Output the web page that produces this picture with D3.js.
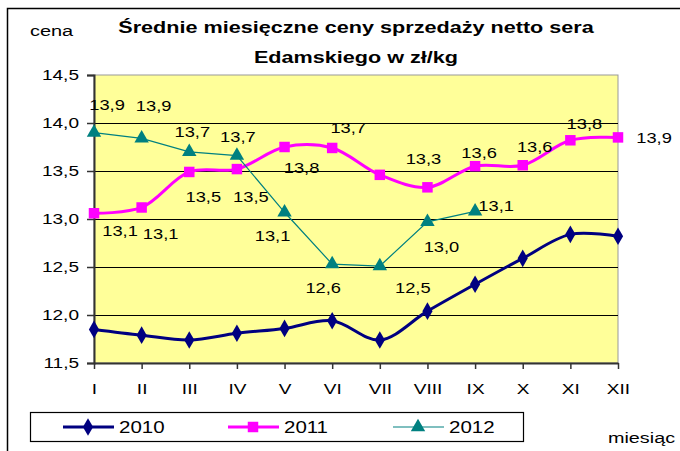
<!DOCTYPE html>
<html>
<head>
<meta charset="utf-8">
<script src="https://cdn.jsdelivr.net/npm/d3@7"></script>
<style>
    body { margin: 0; background: #fff; }
    svg text { font-family: "Liberation Sans", Arial, sans-serif; fill: #000; }
</style>
</head>
<body>
<svg id="chart" width="680" height="451"></svg>
<script>
// dane
const months = ['I', 'II', 'III', 'IV', 'V', 'VI', 'VII', 'VIII', 'IX', 'X', 'XI', 'XII'];
const yTicks = [11.5, 12.0, 12.5, 13.0, 13.5, 14.0, 14.5];
const values2010 = [11.85, 11.79, 11.74, 11.81, 11.86, 11.94, 11.74, 12.04, 12.32, 12.59, 12.84, 12.82];
const values2011 = [13.06, 13.12, 13.49, 13.52, 13.75, 13.74, 13.46, 13.33, 13.55, 13.56, 13.82, 13.85];
const values2012 = [13.90, 13.84, 13.70, 13.66, 13.07, 12.53, 12.51, 12.97, 13.08, null, null, null];
const labels2011 = ['13,1', '13,1', '13,5', '13,5', '13,8', '13,7', '', '13,3', '13,6', '13,6', '13,8', '13,9'];
const labels2012 = ['13,9', '13,9', '13,7', '13,7', '13,1', '12,6', '12,5', '13,0', '13,1', '', '', ''];

// przesunięcia etykiet (recznie, jak w excelu)
const off2011 = [[26, 18], [19, 26], [14, 25], [14, 28], [17, 21], [16, -20], [0, 0], [-4, -29], [4, -13], [12, -18], [14, -17], [36, 0]];
const off2012 = [[13, -28], [12, -33], [3, -20], [1, -19], [-12, 23], [-9, 24], [33, 22], [14, 25], [21, -6], [0, 0], [0, 0], [0, 0]];

// tekst w oryginale jest rozciągnięty w poziomie
const SX = 1.27;

const svg = d3.select('#chart');

// rozciąga tekst: x,y -> transform
function stretch(sel, sx) {
    sel.each(function () {
        let t = d3.select(this);
        let tx = parseFloat(t.attr('x')) || 0,
            ty = parseFloat(t.attr('y')) || 0;
        t.attr('x', 0)
            .attr('y', 0)
            .attr('transform', 'translate(' + tx + ',' + ty + ') scale(' + sx + ',1)');
    });
    return sel;
}

// ramka zewnętrzna (widoczna tylko góra i lewa)
svg.append('path')
    .attr('d', 'M7.5,451 L7.5,8.5 L680,8.5')
    .attr('fill', 'none')
    .attr('stroke', '#000')
    .attr('stroke-width', 1.5);

let plot = {left: 94, right: 618, top: 75, bottom: 363};

let x = d3.scalePoint()
    .domain(months)
    .range([plot.left, plot.right]);
let y = d3.scaleLinear()
    .domain([11.5, 14.5])
    .range([plot.bottom, plot.top]);

// tło wykresu
svg.append('rect')
    .attr('x', plot.left)
    .attr('y', plot.top)
    .attr('width', plot.right - plot.left)
    .attr('height', plot.bottom - plot.top)
    .attr('fill', '#FFFF99')
    .attr('stroke', '#999')
    .attr('stroke-width', 1);

// linie siatki
svg.append('g')
    .selectAll('line')
    .data(yTicks.filter(d => d > 11.5 && d < 14.5))
    .enter()
    .append('line')
    .attr('x1', plot.left)
    .attr('x2', plot.right)
    .attr('y1', d => Math.round(y(d)) + 0.5)
    .attr('y2', d => Math.round(y(d)) + 0.5)
    .attr('stroke', '#000')
    .attr('stroke-width', 1);

// oś Y
let yAxis = svg.append('g')
    .attr('transform', 'translate(' + plot.left + ',0)')
    .call(d3.axisLeft(y).tickValues(yTicks).tickSize(7).tickPadding(8)
        .tickFormat(d => d3.format('.1f')(d).replace('.', ',')));
yAxis.select('.domain').attr('stroke', '#333').attr('stroke-width', 2);
yAxis.selectAll('.tick line').attr('stroke', '#333').attr('stroke-width', 1.5);
stretch(yAxis.selectAll('text').style('font-size', '15px').attr('fill', '#000'), SX);

// oś X
let xAxis = svg.append('g')
    .attr('transform', 'translate(0,' + plot.bottom + ')')
    .call(d3.axisBottom(x).tickSize(6).tickPadding(14).tickSizeOuter(0));
xAxis.select('.domain').attr('stroke', '#333').attr('stroke-width', 2);
xAxis.selectAll('.tick line').attr('stroke', '#333').attr('stroke-width', 1.5);
stretch(xAxis.selectAll('text').style('font-size', '15px').attr('fill', '#000'), SX);

// serie
let series = [
    {name: '2010', values: values2010, color: '#000080', width: 3, curve: d3.curveCatmullRom.alpha(0.5), symbol: d3.symbolDiamond, size: 90, labels: null},
    {name: '2011', values: values2011, color: '#FF00FF', width: 3, curve: d3.curveCatmullRom.alpha(0.5), symbol: d3.symbolSquare, size: 110, labels: labels2011, off: off2011},
    {name: '2012', values: values2012, color: '#008080', width: 1.2, curve: d3.curveLinear, symbol: d3.symbolTriangle, size: 90, labels: labels2012, off: off2012}
];

series.forEach(function (s) {
    let pts = months.map((m, i) => ({m: m, v: s.values[i], i: i})).filter(d => d.v !== null);
    let line = d3.line()
        .x(d => x(d.m))
        .y(d => y(d.v))
        .curve(s.curve);
    svg.append('path')
        .datum(pts)
        .attr('d', line)
        .attr('fill', 'none')
        .attr('stroke', s.color)
        .attr('stroke-width', s.width);
    svg.append('g')
        .selectAll('path')
        .data(pts)
        .enter()
        .append('path')
        .attr('d', d3.symbol().type(s.symbol).size(s.size))
        .attr('transform', d => 'translate(' + x(d.m) + ',' + y(d.v) + ')')
        .attr('fill', s.color);
    if (s.labels) {
        let t = svg.append('g')
            .selectAll('text')
            .data(pts.filter(d => s.labels[d.i] !== ''))
            .enter()
            .append('text')
            .attr('x', d => x(d.m) + s.off[d.i][0])
            .attr('y', d => y(d.v) + s.off[d.i][1])
            .attr('dy', '0.35em')
            .attr('text-anchor', 'middle')
            .style('font-size', '15px')
            .text(d => s.labels[d.i]);
        stretch(t, SX - 0.05);
    }
});

// tytuł
stretch(svg.append('text')
    .attr('x', 356)
    .attr('y', 33)
    .attr('text-anchor', 'middle')
    .style('font-size', '16.5px')
    .style('font-weight', 'bold')
    .text('Średnie miesięczne ceny sprzedaży netto sera'), 1.31);
stretch(svg.append('text')
    .attr('x', 356)
    .attr('y', 63)
    .attr('text-anchor', 'middle')
    .style('font-size', '16.5px')
    .style('font-weight', 'bold')
    .text('Edamskiego w zł/kg'), 1.31);

stretch(svg.append('text')
    .attr('x', 30)
    .attr('y', 36)
    .style('font-size', '15px')
    .text('cena'), 1.33);
stretch(svg.append('text')
    .attr('x', 608)
    .attr('y', 443)
    .style('font-size', '15px')
    .text('miesiąc'), 1.32);

// legenda
let legend = svg.append('g');
legend.append('rect')
    .attr('x', 30.5)
    .attr('y', 412.5)
    .attr('width', 493)
    .attr('height', 29)
    .attr('fill', '#fff')
    .attr('stroke', '#000')
    .attr('stroke-width', 1.2);
let legendX = [63, 228, 393];
series.forEach(function (s, i) {
    let lx = legendX[i], ly = 427;
    legend.append('line')
        .attr('x1', lx)
        .attr('x2', lx + 51)
        .attr('y1', ly)
        .attr('y2', ly)
        .attr('stroke', s.color)
        .attr('stroke-width', s.width);
    legend.append('path')
        .attr('d', d3.symbol().type(s.symbol).size(s.size))
        .attr('transform', 'translate(' + (lx + 25) + ',' + ly + ')')
        .attr('fill', s.color);
    stretch(legend.append('text')
        .attr('x', lx + 56)
        .attr('y', ly + 5.5)
        .style('font-size', '16px')
        .text(s.name), 1.28);
});
</script>
</body>
</html>
